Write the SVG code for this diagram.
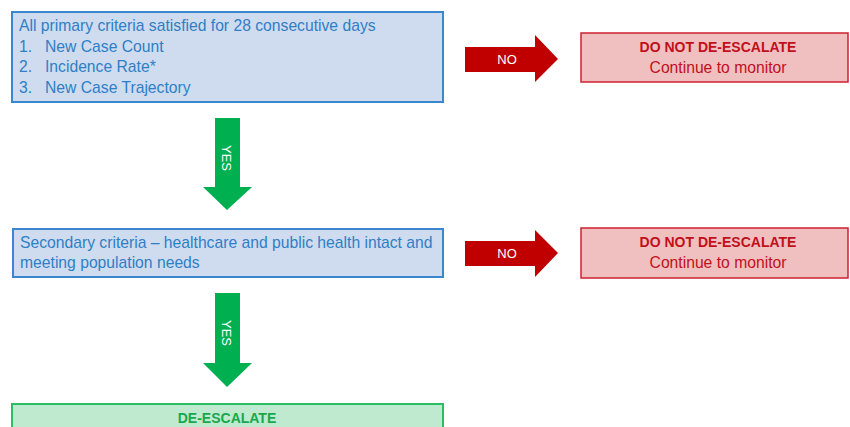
<svg xmlns="http://www.w3.org/2000/svg" width="850" height="427" viewBox="0 0 850 427">
<style>
.t{font-family:"Liberation Sans",Arial,sans-serif;font-size:15.7px}
.blue{fill:#cfdbef;stroke:#3b86cc;stroke-width:2}
.bt{fill:#2e7fc6}
.red{fill:#f0bfc0;stroke:#d02030;stroke-width:1.5}
.rt{fill:#c0101c}
.ra{fill:#c00000}
.ga{fill:#00b050}
.green{fill:#bfead0;stroke:#2bbd62;stroke-width:2}
.gt{fill:#18a84c}
.b{font-weight:bold;font-size:14px}
.w{fill:#ffffff;font-size:13px}
</style>
<rect width="850" height="427" fill="#ffffff"/>
<g id="primary">
<rect class="blue" x="12" y="12" width="431" height="90"/>
<text class="t bt" x="19" y="31">All primary criteria satisfied for 28 consecutive days</text>
<text class="t bt" x="19" y="52">1.</text><text class="t bt" x="45" y="52">New Case Count</text>
<text class="t bt" x="19" y="72">2.</text><text class="t bt" x="45" y="72">Incidence Rate*</text>
<text class="t bt" x="19" y="93">3.</text><text class="t bt" x="45" y="93">New Case Trajectory</text>
</g>
<g id="no1">
<rect class="red" x="581" y="33" width="267" height="49"/>
<text class="t rt b" x="718" y="52" text-anchor="middle">DO NOT DE-ESCALATE</text>
<text class="t rt" x="718" y="73" text-anchor="middle">Continue to monitor</text>
</g>
<g id="secondary">
<rect class="blue" x="13" y="229" width="430" height="48"/>
<text class="t bt" x="20" y="248">Secondary criteria – healthcare and public health intact and</text>
<text class="t bt" x="20" y="268">meeting population needs</text>
</g>
<g id="no2">
<rect class="red" x="581" y="228" width="267" height="50"/>
<text class="t rt b" x="718" y="247" text-anchor="middle">DO NOT DE-ESCALATE</text>
<text class="t rt" x="718" y="268" text-anchor="middle">Continue to monitor</text>
</g>
<g id="deescalate">
<rect class="green" x="12" y="404" width="431" height="40"/>
<text class="t gt b" x="227" y="423" text-anchor="middle">DE-ESCALATE</text>
</g>
<g id="connectors">
<polygon class="ra" points="465,47 535,47 535,35 558,59 535,82 535,72 465,72"/>
<text class="t w" x="507" y="64" text-anchor="middle">NO</text>
<polygon class="ra" points="465,241 535,241 535,230 558,253 535,277 535,266 465,266"/>
<text class="t w" x="507" y="258" text-anchor="middle">NO</text>
<polygon class="ga" points="215,118 240,118 240,187 252,187 227,210 203,187 215,187"/>
<text class="t w" transform="translate(222,158) rotate(90)" text-anchor="middle">YES</text>
<polygon class="ga" points="215,293 240,293 240,363 252,363 227,387 203,363 215,363"/>
<text class="t w" transform="translate(222,333) rotate(90)" text-anchor="middle">YES</text>
</g>
</svg>
